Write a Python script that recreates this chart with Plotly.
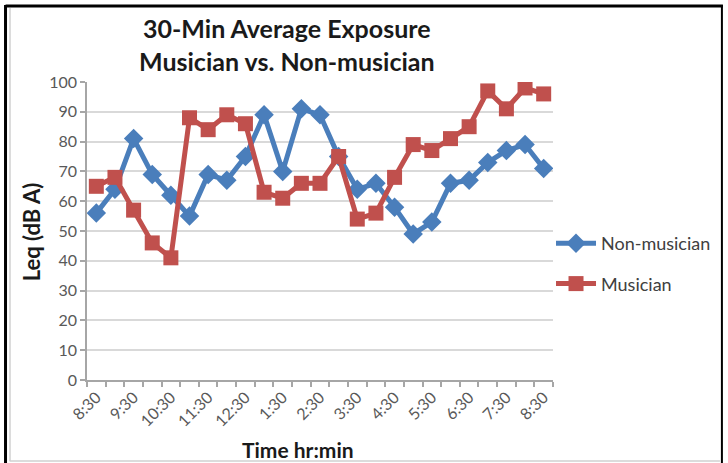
import plotly.graph_objects as go

# Half-hour time slots, 8:30 through 8:30
times = ["8:30", "9:00", "9:30", "10:00", "10:30", "11:00", "11:30", "12:00",
         "12:30", "1:00", "1:30", "2:00", "2:30", "3:00", "3:30", "4:00",
         "4:30", "5:00", "5:30", "6:00", "6:30", "7:00", "7:30", "8:00", "8:30"]

non_musician = [56, 64, 81, 69, 62, 55, 69, 67, 75, 89, 70, 91, 89, 75, 64, 66,
                58, 49, 53, 66, 67, 73, 77, 79, 71]
musician = [65, 68, 57, 46, 41, 88, 84, 89, 86, 63, 61, 66, 66, 75, 54, 56,
            68, 79, 77, 81, 85, 97, 91, 98, 96]

y_ticks = list(range(0, 101, 10))

x_idx = list(range(len(times)))
label_idx = x_idx[::2]
label_text = times[::2]

BLUE = "#4A7EBB"
RED = "#C0504D"
FONT = "Lato"

W, H = 728, 463
L, R, T, B = 87, 556, 82, 380


def px(x):
    return (x - L) / (R - L)


def py(y):
    return (B - y) / (B - T)


fig = go.Figure()
fig.add_trace(go.Scatter(
    x=x_idx, y=non_musician, name="Non-musician", mode="lines+markers",
    legendgroup="non", line=dict(color=BLUE, width=5),
    marker=dict(symbol="diamond", size=15, color=BLUE),
))
fig.add_trace(go.Scatter(
    x=x_idx, y=musician, name="Musician", mode="lines+markers",
    legendgroup="mus", line=dict(color=RED, width=5),
    marker=dict(symbol="square", size=15, color=RED),
))

fig.update_layout(
    width=W, height=H,
    margin=dict(l=L, r=W - R, t=T, b=H - B),
    paper_bgcolor="white", plot_bgcolor="white",
    font=dict(family=FONT, color="#595959", size=16),
    showlegend=True,
    legend=dict(x=px(554), y=py(225), xanchor="left", yanchor="top",
                font=dict(family=FONT, size=18, color="#404040"),
                tracegroupgap=14, itemwidth=40, bgcolor="rgba(0,0,0,0)"),
    annotations=[
        dict(text="<b>30-Min Average Exposure<br>Musician vs. Non-musician</b>",
             xref="paper", yref="paper", x=px(288), y=py(45),
             xanchor="center", yanchor="middle", showarrow=False,
             font=dict(family=FONT, size=25, color="#1a1a1a")),
        dict(text="<b>Leq (dB A)</b>", xref="paper", yref="paper",
             x=px(31), y=py(232), textangle=-90, showarrow=False,
             xanchor="center", yanchor="middle",
             font=dict(family=FONT, size=22, color="#1a1a1a")),
        dict(text="<b>Time hr:min</b>", xref="paper", yref="paper",
             x=px(299), y=py(449), showarrow=False,
             xanchor="center", yanchor="middle",
             font=dict(family=FONT, size=21, color="#1a1a1a")),
    ],
    shapes=[
        # outer frame
        dict(type="line", xref="paper", yref="paper", x0=px(5), x1=px(5),
             y0=py(5), y1=py(463), line=dict(color="black", width=3)),
        dict(type="line", xref="paper", yref="paper", x0=px(5), x1=px(727),
             y0=py(6), y1=py(6), line=dict(color="black", width=3)),
        dict(type="line", xref="paper", yref="paper", x0=px(726), x1=px(726),
             y0=py(5), y1=py(463), line=dict(color="black", width=2)),
        dict(type="line", xref="paper", yref="paper", x0=px(9.5), x1=px(9.5),
             y0=py(8), y1=py(461), line=dict(color="#d0d0d0", width=1.5)),
        dict(type="line", xref="paper", yref="paper", x0=px(9), x1=px(724),
             y0=py(461), y1=py(461), line=dict(color="#d0d0d0", width=1.5)),
    ],
)

fig.update_xaxes(
    range=[-0.5, len(times) - 0.5],
    tickmode="array", tickvals=label_idx, ticktext=label_text,
    tickangle=-45, ticks="", showgrid=False, zeroline=False,
    showline=True, linecolor="#a6a6a6", linewidth=1.5,
    tickfont=dict(family=FONT, size=16, color="#595959"),
    minor=dict(tickmode="array", tickvals=[i - 0.5 for i in range(len(times) + 1)],
               ticks="outside", ticklen=5, tickcolor="#a6a6a6", tickwidth=1.5,
               showgrid=False),
)
fig.update_yaxes(
    range=[0, 100], tickmode="array", tickvals=y_ticks,
    ticks="outside", ticklen=5, tickcolor="#a6a6a6", tickwidth=1.5,
    showgrid=True, gridcolor="#d9d9d9", gridwidth=2,
    zeroline=False, showline=True, linecolor="#a6a6a6", linewidth=1.5,
    tickfont=dict(family=FONT, size=16, color="#595959"),
)

fig.write_html("out.html")
